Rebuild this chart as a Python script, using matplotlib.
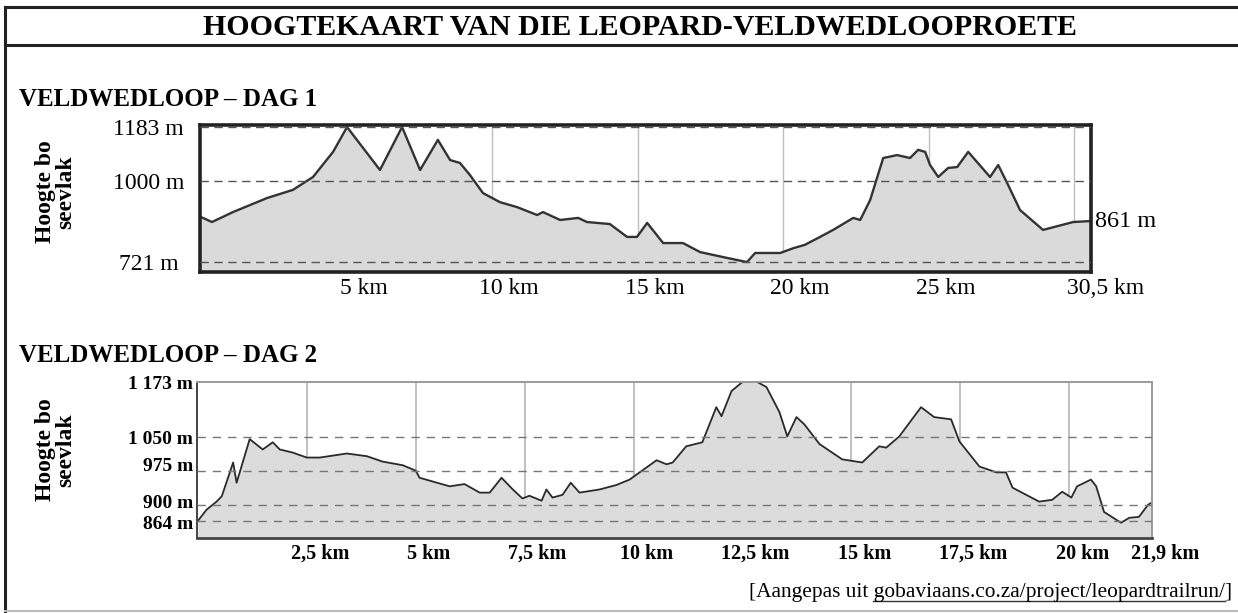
import matplotlib.pyplot as plt
from matplotlib.lines import Line2D
from matplotlib.transforms import ScaledTranslation, blended_transform_factory

plt.rcParams['font.family'] = ['Liberation Serif', 'DejaVu Serif']

# Dag 1 profile (km, m bo seevlak)
day1_km = [0.0, 0.38, 1.10, 2.27, 3.16, 3.85, 4.54, 5.02, 6.15, 6.91, 7.53,
           8.14, 8.56, 8.90, 9.24, 9.69, 10.27, 10.86, 11.55, 11.75, 12.34,
           12.96, 13.26, 14.05, 14.64, 14.98, 15.33, 15.88, 16.56, 17.15,
           18.08, 18.76, 19.04, 19.90, 20.34, 20.75, 21.27, 21.72, 22.41,
           22.65, 22.99, 23.44, 23.92, 24.36, 24.64, 24.88, 25.05, 25.33,
           25.67, 25.98, 26.36, 27.11, 27.39, 27.73, 28.14, 28.93, 29.97, 30.5]
day1_elev = [875, 858, 892, 940, 968, 1012, 1098, 1183, 1036, 1183, 1036,
             1139, 1070, 1060, 1019, 957, 926, 909, 882, 892, 865,
             872, 858, 851, 807, 807, 855, 786, 786, 755,
             735, 721, 752, 752, 768, 780, 807, 831, 872,
             865, 933, 1077, 1087, 1077, 1105, 1098, 1053, 1012,
             1043, 1046, 1098, 1012, 1053, 985, 899, 831, 858, 861]

# Dag 2 profile
day2_km = [0.0, 0.20, 0.43, 0.55, 0.81, 0.89, 1.19, 1.49, 1.72, 1.88, 2.18,
           2.50, 2.80, 3.42, 3.88, 4.24, 4.70, 4.90, 5.00, 5.09, 5.78, 6.12,
           6.47, 6.70, 6.97, 7.23, 7.45, 7.61, 7.89, 8.00, 8.14, 8.37, 8.56,
           8.76, 9.22, 9.61, 9.91, 10.14, 10.53, 10.76, 10.90, 11.21, 11.58,
           11.90, 12.02, 12.25, 12.50, 12.84, 13.05, 13.35, 13.53, 13.74,
           13.92, 14.27, 14.79, 15.25, 15.64, 15.80, 16.10, 16.60, 16.90,
           17.29, 17.48, 17.94, 18.33, 18.55, 18.70, 19.31, 19.61, 19.84,
           20.05, 20.18, 20.50, 20.62, 20.80, 21.19, 21.38, 21.60, 21.81, 21.9]
day2_elev = [864, 889, 907, 919, 994, 949, 1046, 1023, 1039, 1023, 1016,
             1005, 1005, 1014, 1008, 996, 988, 980, 976, 960, 941, 946,
             927, 927, 960, 934, 914, 920, 909, 934, 916, 922, 949,
             927, 934, 944, 956, 972, 999, 990, 994, 1030, 1039,
             1117, 1097, 1153, 1173, 1173, 1162, 1106, 1052, 1095,
             1079, 1035, 1001, 994, 1030, 1027, 1052, 1117, 1095,
             1090, 1041, 985, 972, 972, 938, 907, 911, 929,
             916, 941, 956, 941, 884, 860, 871, 873, 900, 905]

day1_yticks = [1183, 1000, 721]
day1_ylabels = ['1183 m', '1000 m', '721 m']
day1_xticks = [5, 10, 15, 20, 25, 30.5]
day1_xlabels = ['5 km', '10 km', '15 km', '20 km', '25 km', '30,5 km']
day1_grid = [5, 10, 15, 20, 25, 30]
day1_end = 861

day2_yticks = [1173, 1050, 975, 900, 864]
day2_ylabels = ['1 173 m', '1 050 m', '975 m', '900 m', '864 m']
day2_xticks = [2.5, 5, 7.5, 10, 12.5, 15, 17.5, 20, 21.9]
day2_xlabels = ['2,5 km', '5 km', '7,5 km', '10 km', '12,5 km', '15 km',
                '17,5 km', '20 km', '21,9 km']
day2_grid = [2.5, 5, 7.5, 10, 12.5, 15, 17.5, 20]

fig = plt.figure(figsize=(12.38, 6.13), dpi=100)

# frame round the whole thing
fig.add_artist(Line2D([0.004, 0.004], [0.003, 0.988], color='#222', lw=2.2))
fig.add_artist(Line2D([0.004, 1.0], [0.988, 0.988], color='#222', lw=2.2))
fig.add_artist(Line2D([0.004, 1.0], [0.926, 0.926], color='#222', lw=2.2))
fig.add_artist(Line2D([0.004, 1.0], [0.003, 0.003], color='#bbb', lw=1.5))

fig.text(0.517, 0.955, 'HOOGTEKAART VAN DIE LEOPARD-VELDWEDLOOPROETE',
         ha='center', va='center', fontsize=21.5, fontweight='bold')
fig.text(0.015, 0.837, 'VELDWEDLOOP – DAG 1', ha='left', va='center',
         fontsize=18, fontweight='bold')
fig.text(0.015, 0.420, 'VELDWEDLOOP – DAG 2', ha='left', va='center',
         fontsize=18, fontweight='bold')
fig.text(0.045, 0.687, 'Hoogte bo\nseevlak', ha='center', va='center',
         rotation=90, fontsize=17, fontweight='bold', linespacing=1.0)
fig.text(0.045, 0.266, 'Hoogte bo\nseevlak', ha='center', va='center',
         rotation=90, fontsize=17, fontweight='bold', linespacing=1.0)

# ---- Dag 1 ----
ax1 = fig.add_axes([0.1616, 0.5563, 0.7197, 0.2398])
ax1.fill_between(day1_km, day1_elev, 600, color='#dadada', lw=0)
ax1.plot(day1_km, day1_elev, color='#333333', lw=1.7)
for x in day1_grid:
    ax1.axvline(x, color='#bdbdbd', lw=1.0, zorder=0.5)
for y in day1_yticks:
    ax1.axhline(y, color='#555555', lw=1.0, ls=(0, (6, 4)), zorder=3)
ax1.set_xlim(-0.03, 30.58)
ax1.set_ylim(687, 1190)
ax1.set_xticks(day1_xticks, day1_xlabels, fontsize=17)
ax1.set_yticks(day1_yticks, day1_ylabels, fontsize=17)
ax1.tick_params(length=0)
ax1.tick_params(axis='x', pad=4)
ax1.tick_params(axis='y', pad=37)
for lbl in ax1.get_yticklabels():
    lbl.set_ha('center')
for lbl in ax1.get_xticklabels():
    lbl.set_transform(lbl.get_transform() + ScaledTranslation(0.17, 0, fig.dpi_scale_trans))
for s in ax1.spines.values():
    s.set_linewidth(2.6)
    s.set_color('#222222')
tr = blended_transform_factory(ax1.transAxes, ax1.transData)
ax1.text(1.004, day1_end, f'{day1_end} m', transform=tr, ha='left',
         va='center', fontsize=17.5)

# ---- Dag 2 ----
ax2 = fig.add_axes([0.1591, 0.1223, 0.7714, 0.2545])
ax2.fill_between(day2_km, day2_elev, 700, color='#dcdcdc', lw=0)
ax2.plot(day2_km, day2_elev, color='#2a2a2a', lw=1.3)
for x in day2_grid:
    ax2.axvline(x, color='#b5b5b5', lw=1.2, zorder=0.5)
for y in day2_yticks[1:]:
    ax2.axhline(y, color='#777777', lw=1.0, ls=(0, (6, 5)), zorder=3)
ax2.set_xlim(-0.02, 21.9)
ax2.set_ylim(826, 1173)
ax2.set_xticks(day2_xticks, day2_xlabels, fontsize=14.5, fontweight='bold')
ax2.set_yticks(day2_yticks, day2_ylabels, fontsize=14, fontweight='bold')
ax2.tick_params(length=0)
ax2.tick_params(axis='x', pad=4)
ax2.tick_params(axis='y', pad=3)
for lbl in ax2.get_xticklabels():
    lbl.set_transform(lbl.get_transform() + ScaledTranslation(0.13, 0, fig.dpi_scale_trans))
# the 975 / 900 / 864 labels sit a little off their lines in the print
shifts = [0, 0, 0.07, 0.035, -0.02]
for lbl, dy in zip(ax2.get_yticklabels(), shifts):
    lbl.set_transform(lbl.get_transform() + ScaledTranslation(0, dy, fig.dpi_scale_trans))
for name, s in ax2.spines.items():
    s.set_linewidth(1.4)
    s.set_color('#9a9a9a')
ax2.spines['bottom'].set_color('#444444')
ax2.spines['bottom'].set_linewidth(2.0)
ax2.spines['left'].set_color('#444444')

# source line with underlined address
src_x, src_y, src_fs = 0.995, 0.026, 15.4
fig.text(src_x, src_y, '[Aangepas uit gobaviaans.co.za/project/leopardtrailrun/]',
         ha='right', va='baseline', fontsize=src_fs)
fig.canvas.draw()
r = fig.canvas.get_renderer()
probe = fig.text(src_x, src_y, 'gobaviaans.co.za/project/leopardtrailrun/]',
                 ha='right', va='baseline', fontsize=src_fs)
bracket = fig.text(src_x, src_y, ']', ha='right', va='baseline', fontsize=src_fs)
x_left = probe.get_window_extent(r).x0 / fig.bbox.width
x_right = bracket.get_window_extent(r).x0 / fig.bbox.width
probe.remove()
bracket.remove()
fig.add_artist(Line2D([x_left, x_right], [src_y - 0.006, src_y - 0.006],
                      color='#333333', lw=1.0))

fig.savefig('out.png', dpi=100)
